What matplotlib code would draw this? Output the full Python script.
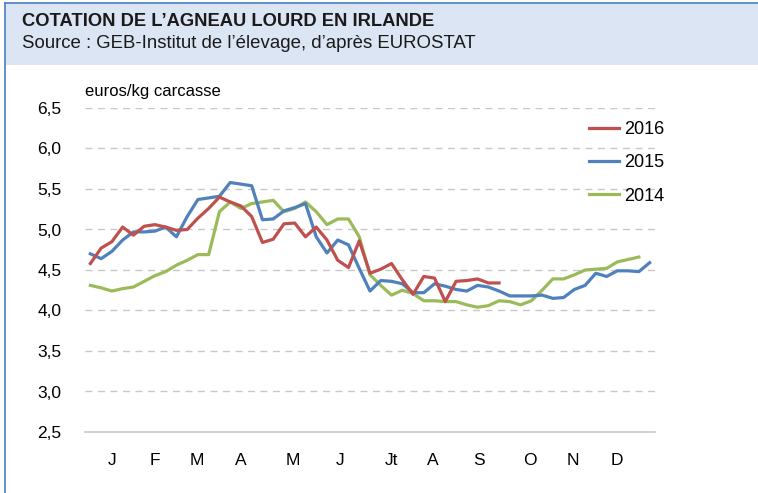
import matplotlib
matplotlib.use("Agg")
import matplotlib.pyplot as plt
from matplotlib.patches import Rectangle
from matplotlib.lines import Line2D

plt.rcParams["font.family"] = ["Liberation Sans Narrow", "Liberation Sans", "DejaVu Sans"]

# weekly prices, euros/kg carcasse
prix_2016 = [4.58, 4.77, 4.85, 5.03, 4.93, 5.04, 5.06, 5.03, 4.99, 5.00,
             5.14, 5.26, 5.40, 5.34, 5.29, 5.16, 4.84, 4.88, 5.07, 5.08,
             4.91, 5.03, 4.87, 4.62, 4.53, 4.86, 4.46, 4.51, 4.58, 4.38,
             4.20, 4.42, 4.40, 4.11, 4.36, 4.37, 4.39, 4.34, 4.34]
prix_2015 = [4.70, 4.64, 4.73, 4.87, 4.97, 4.97, 4.98, 5.03, 4.91, 5.16,
             5.37, 5.39, 5.41, 5.58, 5.56, 5.54, 5.12, 5.13, 5.23, 5.27,
             5.32, 4.91, 4.71, 4.87, 4.81, 4.52, 4.24, 4.37, 4.36, 4.33,
             4.22, 4.22, 4.33, 4.30, 4.26, 4.24, 4.31, 4.29, 4.24, 4.18,
             4.18, 4.18, 4.19, 4.15, 4.16, 4.26, 4.31, 4.46, 4.42, 4.49,
             4.49, 4.48, 4.59]
prix_2014 = [4.31, 4.28, 4.24, 4.27, 4.29, 4.36, 4.43, 4.48, 4.56, 4.62,
             4.69, 4.69, 5.22, 5.34, 5.26, 5.32, 5.34, 5.36, 5.22, 5.26,
             5.34, 5.22, 5.06, 5.13, 5.13, 4.91, 4.44, 4.31, 4.19, 4.25,
             4.21, 4.12, 4.12, 4.11, 4.11, 4.07, 4.04, 4.06, 4.12, 4.11,
             4.07, 4.12, 4.25, 4.39, 4.39, 4.44, 4.50, 4.51, 4.52, 4.60,
             4.63, 4.66]

mois = ["J", "F", "M", "A", "M", "J", "Jt", "A", "S", "O", "N", "D"]
mois_pos = [3.0, 7.0, 10.9, 15.0, 19.8, 24.2, 29.0, 32.8, 37.1, 41.9, 45.9, 50.0]
y_ticks = [2.5, 3.0, 3.5, 4.0, 4.5, 5.0, 5.5, 6.0, 6.5]

W, H = 758, 493
fig = plt.figure(figsize=(W / 100, H / 100), dpi=100)

# header band and blue frame
fig.patches.append(Rectangle((5 / W, 1 - 65 / H), 1 - 5 / W, 62 / H,
                             transform=fig.transFigure, facecolor="#dbe5f3",
                             edgecolor="none", zorder=0))
fig.add_artist(Line2D([5 / W, 5 / W], [0, 1 - 3 / H], transform=fig.transFigure,
                      color="#4a7ebb", linewidth=1.2))
fig.add_artist(Line2D([5 / W, 1], [1 - 3 / H, 1 - 3 / H], transform=fig.transFigure,
                      color="#4a7ebb", linewidth=1.2))

fig.text(22 / W, 1 - 21 / H, "COTATION DE L\u2019AGNEAU LOURD EN IRLANDE",
         fontsize=13.2, fontweight="bold", color="#1a1a1a", va="center", ha="left")
fig.text(22 / W, 1 - 44 / H, "Source : GEB-Institut de l\u2019\u00e9levage, d\u2019apr\u00e8s EUROSTAT",
         fontsize=13.4, color="#1a1a1a", va="center", ha="left")

ax = fig.add_axes([85 / W, 1 - 432 / H, 570 / W, 324 / H])

ax.plot(range(1, len(prix_2016) + 1), prix_2016, color="#c0504d", lw=2.3, label="2016", zorder=4)
ax.plot(range(1, len(prix_2015) + 1), prix_2015, color="#4f81bd", lw=2.3, label="2015", zorder=3)
ax.plot(range(1, len(prix_2014) + 1), prix_2014, color="#9bbb59", lw=2.3, label="2014", zorder=2)

ax.set_xlim(0.5, 53.5)
ax.set_ylim(2.5, 6.5)
ax.set_yticks(y_ticks)
ax.set_yticklabels([f"{v:.1f}".replace(".", ",") for v in y_ticks], fontsize=12.5)
ax.set_xticks(mois_pos)
ax.set_xticklabels(mois, fontsize=12.5)
ax.tick_params(axis="both", length=0)
ax.tick_params(axis="y", pad=17)
ax.tick_params(axis="x", pad=15)

for v in y_ticks[1:]:
    ax.axhline(v, color="#c8c8c8", lw=1.0, ls=(0, (5, 4)), zorder=1)
for s in ["top", "right", "left"]:
    ax.spines[s].set_visible(False)
ax.spines["bottom"].set_color("#c8c8c8")
ax.spines["bottom"].set_linewidth(1.2)

ax.text(0.0, 1.05, "euros/kg carcasse", transform=ax.transAxes, fontsize=12,
        ha="left", va="center")

ax.legend(loc="upper right", bbox_to_anchor=(1.045, 1.01), frameon=False,
          fontsize=13, handlelength=1.65, labelspacing=0.9, handletextpad=0.3)

fig.savefig("out.png", dpi=100)
